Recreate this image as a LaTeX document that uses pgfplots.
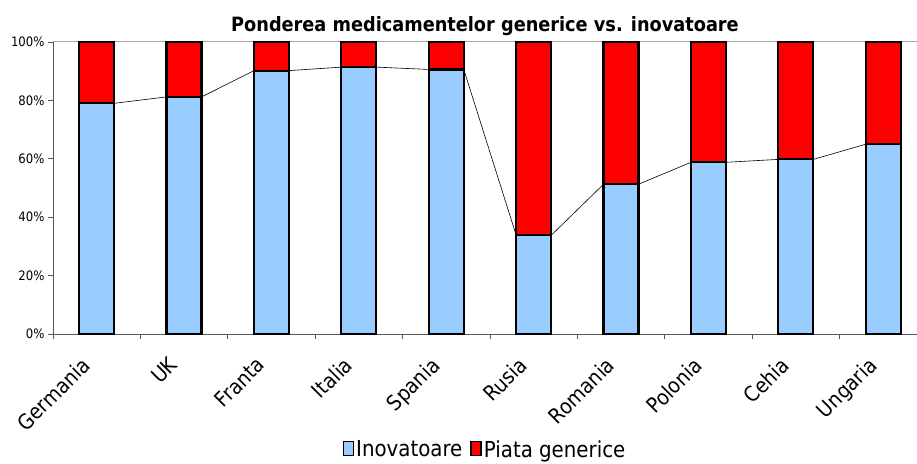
\documentclass[border=0pt]{standalone}
\usepackage{fontspec}
\setmainfont{DejaVu Sans Condensed}
\usepackage{pgfplots}
\pgfplotsset{compat=1.18}
\definecolor{inov}{HTML}{99CCFF}
\definecolor{gener}{HTML}{FF0000}
\begin{document}
\begin{tikzpicture}
\begin{axis}[
    ybar stacked,
    scale only axis,
    width=864pt,
    height=292pt,
    bar width=35pt,
    xmin=-0.5, xmax=9.386,
    ymin=0, ymax=100,
    axis x line*=bottom,
    axis y line*=left,
    axis line style={gray!70!black, line width=0.8pt},
    xtick={0,...,9},
    xticklabels={Germania,UK,Franta,Italia,Spania,Rusia,Romania,Polonia,Cehia,Ungaria},
    major x tick style={draw=none},
    minor xtick={-0.5,0.5,...,8.5},
    minor tick length=5pt,
    minor x tick style={gray!70!black, line width=0.8pt},
    xticklabel style={font=\fontsize{21}{21}\selectfont, rotate=45, anchor=north east, inner sep=2pt, yshift=2pt, xshift=-21pt},
    ytick={0,20,...,100},
    yticklabel={\pgfmathprintnumber{\tick}\%},
    yticklabel style={font=\fontsize{13}{13}\selectfont},
    major tick length=5pt,
    tick align=outside,
    ytick style={gray!70!black, line width=0.8pt},
    /pgf/number format/assume math mode=true,
    title={\bfseries Ponderea medicamentelor generice vs. inovatoare},
    title style={font=\fontsize{19.7}{19.7}\selectfont, yshift=-3pt},
    legend style={at={(0.5,-0.35)}, anchor=north, draw=none, legend columns=2,
        font=\fontsize{22}{22}\selectfont, /tikz/every even column/.append style={column sep=6pt}},
    legend image code/.code={\draw[line width=1.6pt,#1] (0pt,-6pt) rectangle (10pt,8pt);},
    clip=false,
]
\addplot[fill=inov, draw=black, line width=2.2pt] coordinates {
    (0,79.0) (1,81.2) (2,90.2) (3,91.4) (4,90.6)
    (5,33.8) (6,51.3) (7,58.8) (8,59.8) (9,65.0)};
\addplot[fill=gener, draw=black, line width=2.2pt] coordinates {
    (0,21.0) (1,18.8) (2,9.8) (3,8.6) (4,9.4)
    (5,66.2) (6,48.7) (7,41.2) (8,40.2) (9,35.0)};
\legend{Inovatoare, Piata generice}
% series lines joining the tops of the Inovatoare bars
\addplot[sharp plot, stack plots=false, forget plot, black, line width=0.6pt, no markers] coordinates {
    (0.2,79.0) (0.8,81.2) (1.2,81.2) (1.8,90.2) (2.2,90.2) (2.8,91.4)
    (3.2,91.4) (3.8,90.6) (4.2,90.6) (4.8,33.8) (5.2,33.8) (5.8,51.3)
    (6.2,51.3) (6.8,58.8) (7.2,58.8) (7.8,59.8) (8.2,59.8) (8.8,65.0)};
\draw[gray!70, line width=1pt] (axis cs:-0.5,100) -- (axis cs:9.386,100);
\end{axis}
\pgfresetboundingbox
\path[use as bounding box] ([shift={(-53pt,-129pt)}]current axis.south west) rectangle ++(917pt,463pt);
\end{tikzpicture}
\end{document}
